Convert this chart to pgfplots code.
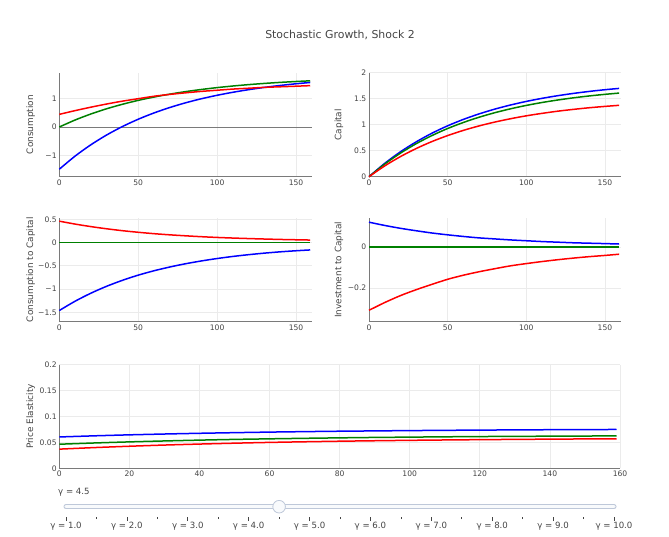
\documentclass[border=0pt]{standalone}
\usepackage{fontspec}
\setmainfont{DejaVu Sans}
\usepackage{pgfplots}
\usepackage{pgfplotstable}
\pgfplotsset{compat=1.18}
\definecolor{textc}{HTML}{444444}
\definecolor{gridc}{HTML}{EBEBEB}
\definecolor{axisc}{HTML}{7A7A7A}
\definecolor{cred}{HTML}{FF0000}
\definecolor{cgreen}{HTML}{008000}
\definecolor{cblue}{HTML}{0000FF}
\definecolor{trackc}{HTML}{BEC8D9}
\definecolor{trackfill}{HTML}{F8FAFC}

\pgfplotstableread{
t blue green red
0 -1.470 0.000 0.44
10 -1.013 0.243 0.57
20 -0.619 0.453 0.69
30 -0.278 0.635 0.80
40 0.016 0.791 0.90
50 0.270 0.927 0.985
60 0.489 1.043 1.07
70 0.678 1.144 1.135
80 0.842 1.231 1.19
90 0.983 1.306 1.24
100 1.104 1.371 1.28
110 1.209 1.427 1.32
120 1.300 1.475 1.35
130 1.379 1.517 1.38
140 1.446 1.553 1.40
150 1.505 1.584 1.42
159 1.550 1.608 1.44
}\consumption

\pgfplotstableread{
t blue green red
0 0 0 0
10 0.257 0.243 0.208
20 0.479 0.453 0.387
30 0.670 0.635 0.542
40 0.836 0.791 0.676
50 0.979 0.927 0.791
60 1.102 1.043 0.891
70 1.208 1.144 0.977
80 1.300 1.231 1.051
90 1.379 1.306 1.115
100 1.448 1.371 1.171
110 1.507 1.427 1.218
120 1.558 1.475 1.260
130 1.602 1.517 1.295
140 1.640 1.553 1.326
150 1.673 1.584 1.352
159 1.698 1.608 1.373
}\capital

\pgfplotstableread{
t blue green red
0 -1.460 0 0.460
10 -1.260 0 0.397
20 -1.088 0 0.343
30 -0.939 0 0.296
40 -0.811 0 0.255
50 -0.700 0 0.221
60 -0.606 0 0.191
70 -0.525 0 0.166
80 -0.455 0 0.145
90 -0.395 0 0.126
100 -0.343 0 0.110
110 -0.298 0 0.097
120 -0.260 0 0.086
130 -0.227 0 0.076
140 -0.199 0 0.067
150 -0.176 0 0.060
159 -0.158 0 0.054
}\ctok

\pgfplotstableread{
t blue green red
0 0.122 0 -0.310
10 0.106 0 -0.272
20 0.092 0 -0.238
30 0.080 0 -0.209
40 0.069 0 -0.183
50 0.060 0 -0.158
60 0.052 0 -0.138
70 0.045 0 -0.121
80 0.040 0 -0.106
90 0.035 0 -0.092
100 0.031 0 -0.081
110 0.027 0 -0.071
120 0.024 0 -0.062
130 0.021 0 -0.054
140 0.019 0 -0.047
150 0.017 0 -0.041
159 0.015 0 -0.035
}\itok

\pgfplotstableread{
t blue green red
0 0.0605 0.0465 0.0370
10 0.0627 0.0489 0.0400
20 0.0646 0.0510 0.0426
30 0.0662 0.0528 0.0449
40 0.0676 0.0544 0.0468
50 0.0688 0.0558 0.0485
60 0.0699 0.0569 0.0500
70 0.0708 0.0579 0.0512
80 0.0716 0.0588 0.0523
90 0.0722 0.0596 0.0532
100 0.0728 0.0602 0.0540
110 0.0733 0.0608 0.0547
120 0.0738 0.0613 0.0553
130 0.0741 0.0617 0.0558
140 0.0745 0.0620 0.0563
150 0.0747 0.0623 0.0567
159 0.0750 0.0626 0.0570
}\elast

\pgfplotsset{
  panel/.style={
    scale only axis, anchor=north west,
    width=252.5pt, height=104pt,
    xmin=0, xmax=160, xtick={0,50,100,150},
    grid=major, grid style={draw=gridc, line width=0.7pt},
    axis x line*=bottom, axis y line*=left,
    axis line style={draw=axisc, line width=0.8pt, -},
    major tick length=0pt, tick style={draw=none},
    tick label style={font=\fontsize{7.6}{9}\selectfont, text=textc},
    /pgf/number format/assume math mode=true,
    yticklabel style={inner sep=0pt, xshift=-2.5pt},
    xticklabel style={inner sep=0pt, yshift=-2.8pt},
    every axis y label/.style={at={([xshift=-24pt]axis description cs:0,0.5)}, anchor=south, rotate=90, inner sep=0pt, font=\fontsize{8.9}{10}\selectfont, text=textc},
    clip=false,
  },
  bl/.style={draw=cblue, line width=1.5pt, smooth},
  gr/.style={draw=cgreen, line width=1.5pt, smooth},
  rd/.style={draw=cred, line width=1.5pt, smooth},
}

\begin{document}
\begin{tikzpicture}
\path[use as bounding box] (0,0) rectangle (669pt,-536pt);
\node[font=\fontsize{10.9}{12}\selectfont, text=textc] at (340pt,-35pt) {Stochastic Growth, Shock 2};

% Consumption
\begin{axis}[panel, at={(59.3pt,-72.7pt)}, ymin=-1.73, ymax=1.89,
  ytick={-1,0,1}, yticklabels={−1,0,1}, ylabel={Consumption}]
\addplot[draw=axisc, line width=0.8pt] coordinates {(0,0) (160,0)};
\addplot[bl] table[x=t,y=blue] {\consumption};
\addplot[gr] table[x=t,y=green] {\consumption};
\addplot[rd] table[x=t,y=red] {\consumption};
\end{axis}

% Capital
\begin{axis}[panel, at={(369pt,-72.7pt)}, width=251.7pt, ymin=0, ymax=2,
  ytick={0,0.5,1,1.5,2}, yticklabels={0,0.5,1,1.5,2}, ylabel={Capital},
  every axis y label/.append style={at={([xshift=-25.5pt]axis description cs:0,0.5)}}]
\addplot[bl] table[x=t,y=blue] {\capital};
\addplot[gr] table[x=t,y=green] {\capital};
\addplot[rd] table[x=t,y=red] {\capital};
\end{axis}

% Consumption to Capital
\begin{axis}[panel, at={(59.3pt,-217.7pt)}, ymin=-1.70, ymax=0.534,
  ytick={-1.5,-1,-0.5,0,0.5}, yticklabels={−1.5,−1,−0.5,0,0.5}, ylabel={Consumption to Capital}]
\addplot[bl] table[x=t,y=blue] {\ctok};
\addplot[rd] table[x=t,y=red] {\ctok};
\addplot[gr] table[x=t,y=green] {\ctok};
\end{axis}

% Investment to Capital
\begin{axis}[panel, at={(369pt,-217.7pt)}, width=251.7pt, ymin=-0.366, ymax=0.144,
  ytick={-0.2,0}, yticklabels={−0.2,0}, ylabel={Investment to Capital},
  every axis y label/.append style={at={([xshift=-25.5pt]axis description cs:0,0.5)}}]
\addplot[bl] table[x=t,y=blue] {\itok};
\addplot[rd] table[x=t,y=red] {\itok};
\addplot[gr] table[x=t,y=green] {\itok};
\end{axis}

% Price Elasticity
\begin{axis}[panel, at={(59.3pt,-364.7pt)}, width=560.7pt, height=103.6pt,
  xtick={0,20,...,160}, ymin=0, ymax=0.2,
  ytick={0,0.05,0.1,0.15,0.2}, yticklabels={0,0.05,0.1,0.15,0.2}, ylabel={Price Elasticity}]
\addplot[bl] table[x=t,y=blue] {\elast};
\addplot[gr] table[x=t,y=green] {\elast};
\addplot[rd] table[x=t,y=red] {\elast};
\end{axis}

% Slider
\node[anchor=west, inner sep=0pt, font=\fontsize{8.6}{10}\selectfont, text=textc] at (58pt,-492pt) {γ = 4.5};
\begin{axis}[scale only axis, anchor=south west, at={(66pt,-517pt)},
  width=548pt, height=20.6pt, xmin=1, xmax=10, ymin=-1, ymax=1,
  hide y axis, axis x line*=bottom, axis line style={draw=none},
  xtick={1,...,10}, minor xtick={1.5,2.5,...,9.5},
  xticklabels={γ = 1.0,γ = 2.0,γ = 3.0,γ = 4.0,γ = 5.0,γ = 6.0,γ = 7.0,γ = 8.0,γ = 9.0,γ = 10.0},
  tick align=outside, major tick length=4pt, minor tick length=2pt,
  tick style={draw=textc, line width=0.6pt},
  xticklabel style={font=\fontsize{8.6}{10}\selectfont, text=textc, inner sep=0pt, yshift=-1pt},
  clip=false]
\addplot[draw=trackc, line width=5pt, line cap=round] coordinates {(1,0) (10,0)};
\addplot[draw=trackfill, line width=3.4pt, line cap=round] coordinates {(1,0) (10,0)};
\addplot[only marks, mark=*, mark size=6.3pt, mark options={fill=trackfill, draw=trackc, line width=0.8pt}] coordinates {(4.5,0)};
\end{axis}
\end{tikzpicture}
\end{document}
